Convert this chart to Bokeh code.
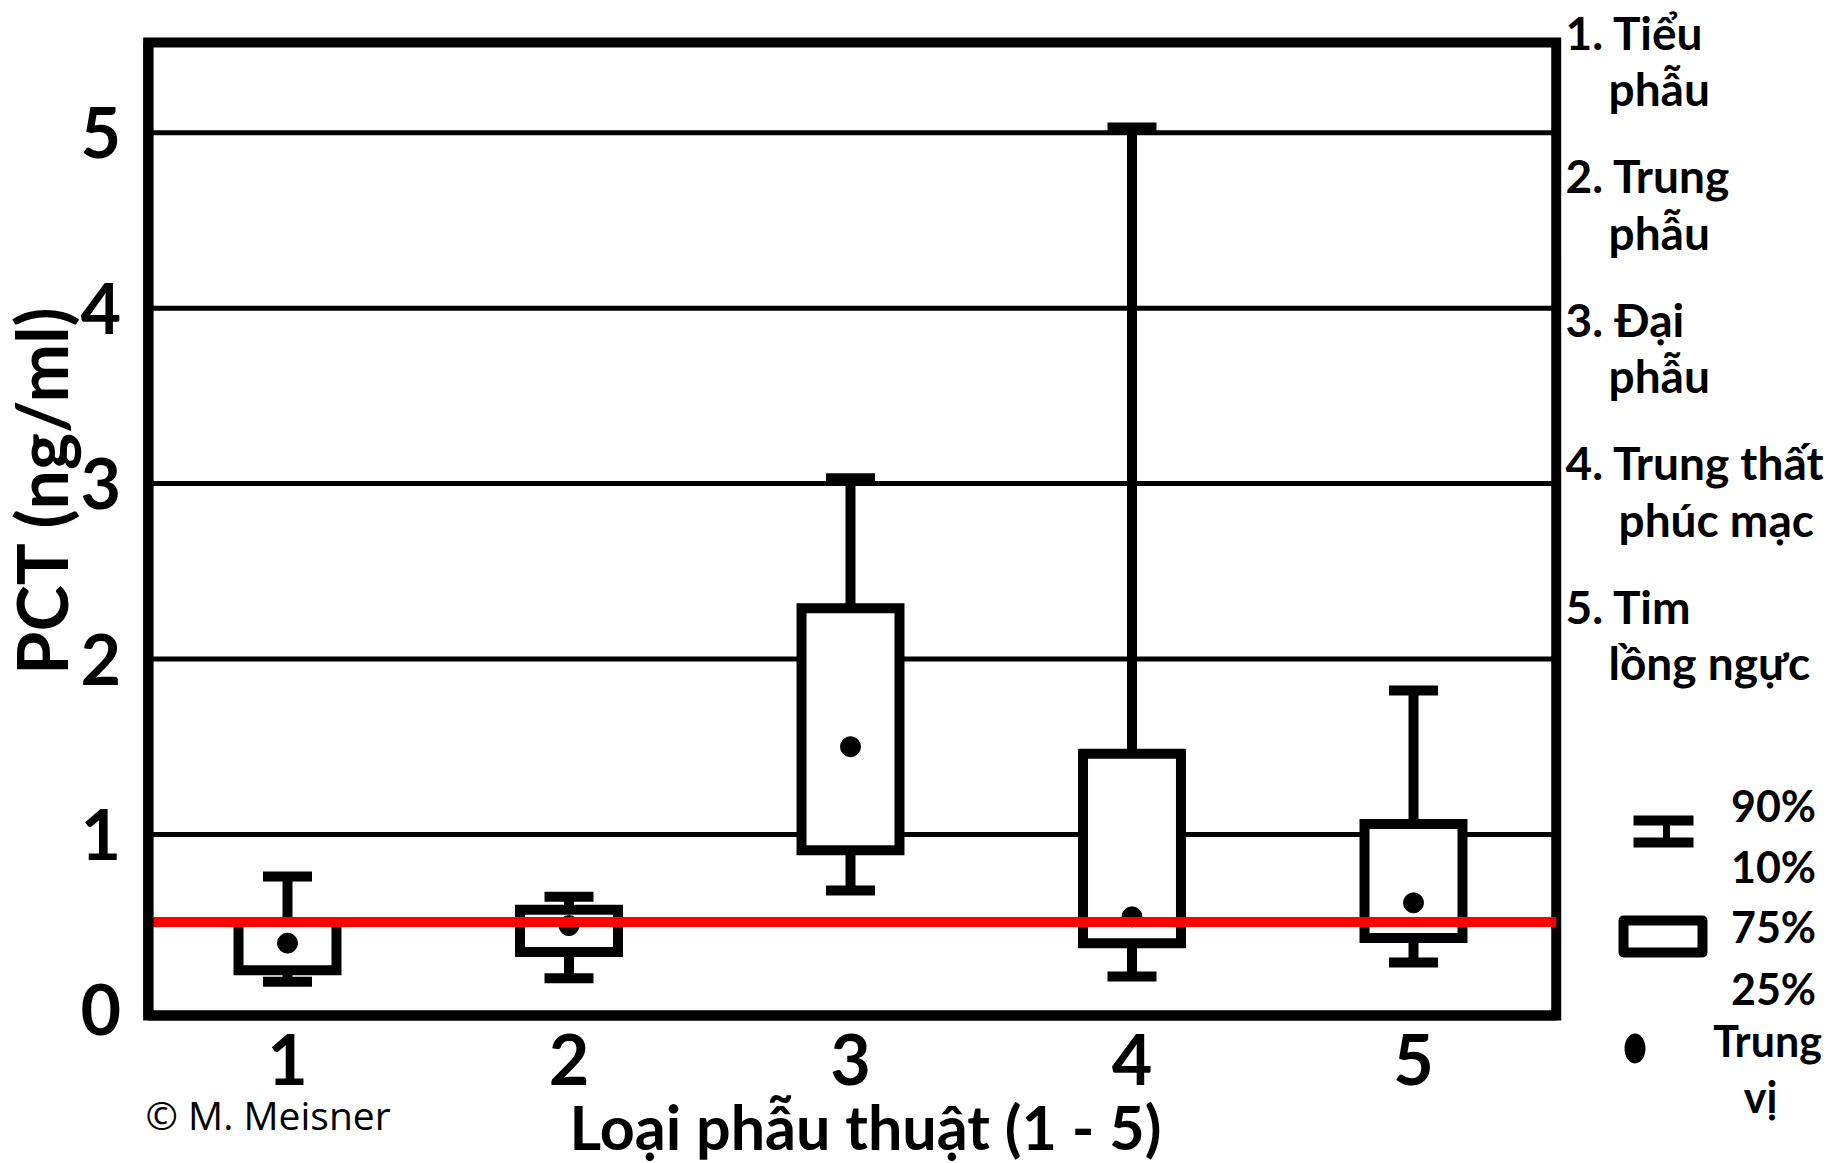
import math
from bokeh.plotting import figure
from bokeh.models import Range1d, FixedTicker, LinearAxis
from bokeh.core.properties import value
from bokeh.embed import file_html
from bokeh.resources import INLINE

# ---- data ----
categories = [1, 2, 3, 4, 5]
p10 = [0.16, 0.18, 0.68, 0.19, 0.27]
q1 = [0.225, 0.33, 0.91, 0.38, 0.41]
median = [0.38, 0.48, 1.50, 0.53, 0.61]
q3 = [0.50, 0.57, 2.29, 1.46, 1.06]
p90 = [0.76, 0.645, 3.03, 5.03, 1.82]
cutoff = 0.5
y_ticks = [0, 1, 2, 3, 4, 5]
grid_values = [1, 2, 3, 4, 5]
x_ticks = [1, 2, 3, 4, 5]
group_labels = [("1. Tiểu", "phẫu"), ("2. Trung", "phẫu"), ("3. Đại", "phẫu"),
                ("4. Trung thất", "phúc mạc"), ("5. Tim", "lồng ngực")]
legend_labels = ["90%", "10%", "75%", "25%", "Trung", "vị"]
y_title = "PCT (ng/ml)"
x_title = "Loại phẫu thuật (1 - 5)"
credit = "© M. Meisner"

# ---- canvas geometry (pixels per data unit) ----
W, H = 1839, 1163
PX_X, PX_Y = 281.5, 175.4
X0 = 1 - 287 / PX_X            # data x at left edge of canvas
Y1 = 1009.3 / PX_Y             # data y at top edge of canvas
def X(px):
    return X0 + px / PX_X
def Y(py):
    return Y1 - py / PX_Y
def BL(py, size):
    # baseline correction for the svg text placement
    return Y(py - 0.4 * size)

LEFT, RIGHT = 0.505, 5.507     # x extent of the plotting box
BOTTOM, TOP = -0.0325, 5.515   # y extent of the plotting box

p = figure(width=W, height=H, min_border=0,
           x_range=Range1d(X0, X(W)), y_range=Range1d(Y(H), Y1),
           x_axis_type=None, y_axis_type=None,
           output_backend="svg", toolbar_location=None, title=None)
p.outline_line_color = None
p.grid.visible = False
p.background_fill_color = "white"
p.border_fill_color = "white"

BOLD = value("Lato")

# gridlines
p.segment(x0=[LEFT] * len(grid_values), x1=[RIGHT] * len(grid_values),
          y0=grid_values, y1=grid_values, line_color="black", line_width=5)
# frame (top / right borders)
p.quad(left=[LEFT], right=[RIGHT], bottom=[BOTTOM], top=[TOP], fill_color=None,
       line_color="black", line_width=10, line_join="miter")

# axes placed at the plot box edges
yax = LinearAxis(fixed_location=LEFT, ticker=FixedTicker(ticks=y_ticks), bounds=(BOTTOM, TOP))
xax = LinearAxis(fixed_location=BOTTOM, ticker=FixedTicker(ticks=x_ticks), bounds=(LEFT, RIGHT))
for ax in (xax, yax):
    ax.axis_line_width = 10
    ax.axis_line_color = "black"
    ax.major_tick_line_color = None
    ax.minor_tick_line_color = None
    ax.major_tick_out = 0
    ax.major_tick_in = 0
    ax.major_label_text_font = "Lato"
    ax.major_label_text_font_style = "bold"
    ax.major_label_text_font_size = "70px"
    ax.major_label_text_color = "black"
yax.major_label_standoff = 27
xax.major_label_standoff = 18
p.add_layout(yax, "left")
p.add_layout(xax, "below")

# whiskers
p.segment(x0=categories, y0=p10, x1=categories, y1=p90, line_color="black", line_width=10)
# boxes
p.vbar(x=categories, width=0.348, bottom=q1, top=q3, fill_color="white",
       line_color="black", line_width=10, line_join="miter")
# caps (10% and 90%)
p.rect(x=categories, y=p90, width=0.174, height=10, height_units="screen",
       fill_color="black", line_color=None)
p.rect(x=categories, y=p10, width=0.174, height=10, height_units="screen",
       fill_color="black", line_color=None)
# medians
p.scatter(x=categories, y=median, size=20, color="black")
# cut-off line
p.segment(x0=[LEFT], x1=[RIGHT], y0=[cutoff], y1=[cutoff], line_color="#ff0000", line_width=10)

# titles and credit
p.text(x=[X(68 - 0.4 * 70)], y=[Y(489.5)], text=[y_title], angle=math.pi / 2,
       text_align="center", text_baseline="alphabetic",
       text_font=BOLD, text_font_style="bold", text_font_size="70px", text_color="black")
p.text(x=[X(865)], y=[BL(1150, 61)], text=[x_title],
       text_align="center", text_baseline="alphabetic",
       text_font=BOLD, text_font_style="bold", text_font_size="61px", text_color="black")
p.text(x=[X(145)], y=[BL(1130, 39)], text=[credit],
       text_align="left", text_baseline="alphabetic",
       text_font=value("Open Sans"), text_font_size="39px", text_color="black")

# group names on the right
tx, ty, tt = [], [], []
for i, (a, b) in enumerate(group_labels):
    base = 50 + 143.5 * i
    tx += [X(1565), X(1618 if b == "phúc mạc" else 1608)]
    ty += [BL(base, 46), BL(base + 56.7, 46)]
    tt += [a, b]
p.text(x=tx, y=ty, text=tt, text_font=BOLD, text_font_style="bold", text_font_size="46px",
       text_align="left", text_baseline="alphabetic", text_color="black")

# key symbols
p.rect(x=[X(1663), X(1663)], y=[Y(820), Y(842)], width=60, height=10,
       width_units="screen", height_units="screen", fill_color="black", line_color=None)
p.rect(x=[X(1666)], y=[Y(831)], width=7, height=22,
       width_units="screen", height_units="screen", fill_color="black", line_color=None)
p.rect(x=[X(1662.5)], y=[Y(936)], width=79, height=32,
       width_units="screen", height_units="screen", fill_color="white",
       line_color="black", line_width=10, line_join="round")
p.ellipse(x=[X(1634.5)], y=[Y(1048)], width=21, height=30, width_units="screen",
          height_units="screen", fill_color="black", line_color=None)
kx = [X(v) for v in (1773, 1773, 1773, 1773, 1767, 1760)]
ky = [BL(v, 43) for v in (822, 883, 943, 1005, 1057, 1113)]
p.text(x=kx, y=ky, text=legend_labels, text_font=BOLD, text_font_style="bold",
       text_font_size="43px", text_align="center", text_baseline="alphabetic",
       text_color="black")

open("out.html", "w").write(file_html(p, INLINE))
